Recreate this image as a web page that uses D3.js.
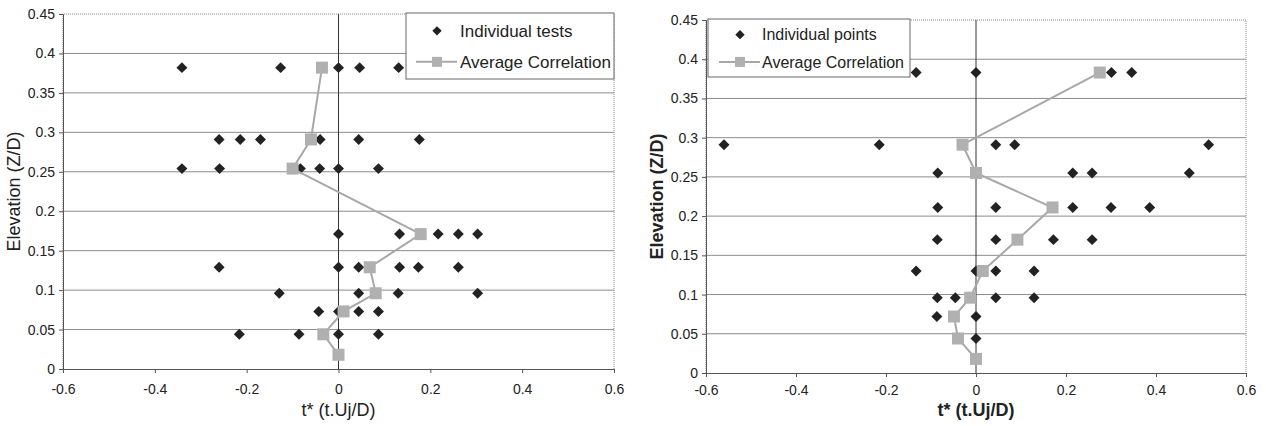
<!DOCTYPE html>
<html>
<head>
<meta charset="utf-8">
<script src="https://cdn.jsdelivr.net/npm/d3@7"></script>
<style>
  body { margin: 0; background: #fff; }
  svg { display: block; font-family: "Liberation Sans", Arial, sans-serif; }
</style>
</head>
<body>
<svg id="chart" width="1266" height="426"></svg>
<script>
// Tick values shared by both panels
const xTicks = [-0.6, -0.4, -0.2, 0, 0.2, 0.4, 0.6];
const yTicks = [0, 0.05, 0.1, 0.15, 0.2, 0.25, 0.3, 0.35, 0.4, 0.45];

// Left panel: individual tests [t*, Z/D]
const leftPoints = [
  [-0.341, 0.382], [-0.126, 0.382], [0, 0.382], [0.046, 0.382], [0.131, 0.382],
  [-0.26, 0.291], [-0.214, 0.291], [-0.17, 0.291], [-0.04, 0.291], [0.044, 0.291], [0.176, 0.291],
  [-0.341, 0.254], [-0.259, 0.254], [-0.083, 0.254], [-0.041, 0.254], [0, 0.254], [0.087, 0.254],
  [0, 0.171], [0.133, 0.171], [0.217, 0.171], [0.261, 0.171], [0.303, 0.171],
  [-0.26, 0.129], [0, 0.129], [0.044, 0.129], [0.133, 0.129], [0.174, 0.129], [0.261, 0.129],
  [-0.129, 0.096], [0.044, 0.096], [0.13, 0.096], [0.303, 0.096],
  [-0.043, 0.073], [0, 0.073], [0.044, 0.073], [0.087, 0.073],
  [-0.216, 0.044], [-0.086, 0.044], [0, 0.044], [0.087, 0.044]
];
const leftAverage = [
  [0, 0.018], [-0.033, 0.044], [0.011, 0.073], [0.081, 0.096], [0.068, 0.129],
  [0.179, 0.171], [-0.1, 0.254], [-0.06, 0.291], [-0.036, 0.382]
];

// Right panel: individual points [t*, Z/D]
const rightPoints = [
  [-0.133, 0.383], [0, 0.383], [0.301, 0.383], [0.346, 0.383],
  [-0.56, 0.291], [-0.215, 0.291], [0.044, 0.291], [0.086, 0.291], [0.517, 0.291],
  [-0.085, 0.255], [0.215, 0.255], [0.258, 0.255], [0.474, 0.255],
  [-0.085, 0.211], [0.044, 0.211], [0.215, 0.211], [0.30, 0.211], [0.386, 0.211],
  [-0.086, 0.170], [0.044, 0.170], [0.172, 0.170], [0.258, 0.170],
  [-0.133, 0.130], [0, 0.130], [0.044, 0.130], [0.129, 0.130],
  [-0.086, 0.096], [-0.046, 0.096], [0.044, 0.096], [0.129, 0.096],
  [-0.087, 0.072], [0, 0.072],
  [0, 0.044]
];
const rightAverage = [
  [0, 0.018], [-0.04, 0.044], [-0.049, 0.072], [-0.013, 0.096], [0.015, 0.130],
  [0.092, 0.170], [0.17, 0.211], [0, 0.255], [-0.03, 0.291], [0.275, 0.383]
];

const svg = d3.select("#chart");

// square turned 45 degrees, like the Excel diamond marker
const diamond = d3.symbol().type(d3.symbolSquare).size(60);
const diamondSmall = d3.symbol().type(d3.symbolSquare).size(44);

function drawPanel(cfg) {
  const g = svg.append("g");

  const x = d3.scaleLinear().domain([-0.6, 0.6]).range([cfg.left, cfg.right]);
  const y = d3.scaleLinear().domain([0, 0.45]).range([cfg.bottom, cfg.top]);

  // Horizontal gridlines
  g.selectAll(".grid")
    .data(yTicks.filter(v => v > 0 && v < 0.45))
    .enter()
    .append("line")
    .attr("x1", cfg.left)
    .attr("x2", cfg.right)
    .attr("y1", d => y(d))
    .attr("y2", d => y(d))
    .attr("stroke", "#8c8c8c")
    .attr("stroke-width", 1);

  // Dotted plot frame (top, right, left)
  g.append("path")
    .attr("d", `M${cfg.left},${cfg.bottom}V${cfg.top}H${cfg.right}V${cfg.bottom}`)
    .attr("fill", "none")
    .attr("stroke", "#888")
    .attr("stroke-dasharray", "1,1");

  // Vertical line at t* = 0
  g.append("line")
    .attr("x1", x(0)).attr("x2", x(0))
    .attr("y1", y(0)).attr("y2", y(0.45))
    .attr("stroke", "#333")
    .attr("stroke-width", 1);

  // Axes
  const fmt = d => String(d);
  const xAxis = g.append("g")
    .attr("transform", `translate(0,${cfg.bottom})`)
    .call(d3.axisBottom(x).tickValues(xTicks).tickSize(4).tickFormat(fmt));
  const yAxis = g.append("g")
    .attr("transform", `translate(${cfg.left},0)`)
    .call(d3.axisLeft(y).tickValues(yTicks).tickSize(4).tickFormat(fmt));

  [xAxis, yAxis].forEach(a => {
    a.select(".domain").attr("stroke", "#555");
    a.selectAll(".tick line").attr("stroke", "#555");
    a.selectAll(".tick text")
      .attr("fill", "#222")
      .style("font-size", "14px")
      .style("font-family", '"Liberation Sans", Arial, sans-serif');
  });
  xAxis.selectAll(".tick text").attr("dy", cfg.tickDy);
  yAxis.selectAll(".tick text").attr("x", -8);

  // Axis titles
  g.append("text")
    .attr("x", x(0))
    .attr("y", 416)
    .attr("text-anchor", "middle")
    .attr("font-size", 18)
    .attr("font-weight", cfg.bold ? "bold" : "normal")
    .attr("fill", "#222")
    .text("t* (t.Uj/D)");

  g.append("text")
    .attr("transform", `translate(${cfg.yTitleX},${(cfg.top + cfg.bottom) / 2}) rotate(-90)`)
    .attr("text-anchor", "middle")
    .attr("font-size", 18)
    .attr("font-weight", cfg.bold ? "bold" : "normal")
    .attr("fill", "#222")
    .text("Elevation (Z/D)");

  // Individual points
  g.selectAll(".pt")
    .data(cfg.points)
    .enter()
    .append("path")
    .attr("d", diamond)
    .attr("transform", d => `translate(${x(d[0])},${y(d[1])}) rotate(45)`)
    .attr("fill", "#222");

  // Average correlation line + squares
  const line = d3.line().x(d => x(d[0])).y(d => y(d[1]));
  g.append("path")
    .datum(cfg.average)
    .attr("d", line)
    .attr("fill", "none")
    .attr("stroke", "#a8a8a8")
    .attr("stroke-width", 2);

  g.selectAll(".avg")
    .data(cfg.average)
    .enter()
    .append("rect")
    .attr("x", d => x(d[0]) - 6)
    .attr("y", d => y(d[1]) - 6)
    .attr("width", 12)
    .attr("height", 12)
    .attr("fill", "#b0b0b0");

  // Legend
  const lg = cfg.legend;
  const leg = g.append("g");
  leg.append("rect")
    .attr("x", lg.x)
    .attr("y", lg.y)
    .attr("width", lg.w)
    .attr("height", lg.h)
    .attr("fill", "#fff")
    .attr("stroke", "#666");

  leg.append("path")
    .attr("d", diamondSmall)
    .attr("transform", `translate(${lg.markX},${lg.y + lg.h * 0.27}) rotate(45)`)
    .attr("fill", "#222");
  leg.append("text")
    .attr("x", lg.textX)
    .attr("y", lg.y + lg.h * 0.27)
    .attr("dy", "0.35em")
    .attr("font-size", lg.fontSize)
    .attr("fill", "#222")
    .text(lg.label);

  leg.append("line")
    .attr("x1", lg.markX - 21).attr("x2", lg.markX + 20)
    .attr("y1", lg.y + lg.h * 0.74).attr("y2", lg.y + lg.h * 0.74)
    .attr("stroke", "#a8a8a8")
    .attr("stroke-width", 2);
  leg.append("rect")
    .attr("x", lg.markX - 5)
    .attr("y", lg.y + lg.h * 0.74 - 5)
    .attr("width", 10)
    .attr("height", 10)
    .attr("fill", "#b0b0b0");
  leg.append("text")
    .attr("x", lg.textX)
    .attr("y", lg.y + lg.h * 0.74)
    .attr("dy", "0.35em")
    .attr("font-size", lg.fontSize)
    .attr("fill", "#222")
    .text("Average Correlation");
}

drawPanel({
  left: 63, right: 614, top: 14, bottom: 369,
  yTitleX: 20, bold: false, tickDy: "1.25em",
  points: leftPoints, average: leftAverage,
  legend: { x: 406, y: 13, w: 208, h: 66, markX: 437, textX: 460, fontSize: 17, label: "Individual tests" }
});

drawPanel({
  left: 706, right: 1246, top: 20, bottom: 373,
  yTitleX: 663, bold: true, tickDy: "1.05em",
  points: rightPoints, average: rightAverage,
  legend: { x: 708, y: 19, w: 202, h: 58, markX: 740, textX: 762, fontSize: 16, label: "Individual points" }
});
</script>
</body>
</html>
